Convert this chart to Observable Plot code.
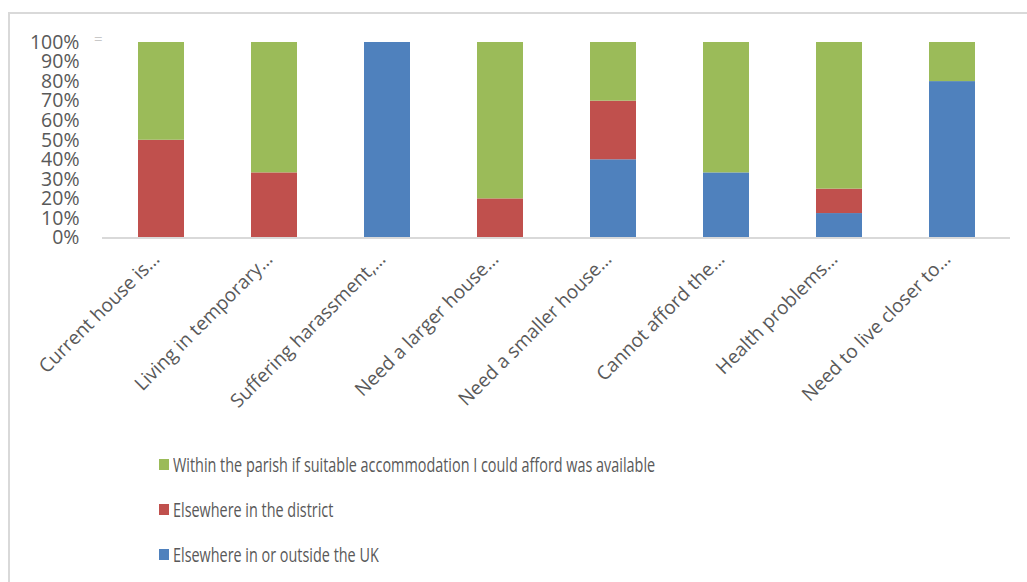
<!DOCTYPE html>
<html><head><meta charset="utf-8">
<script src="https://cdn.jsdelivr.net/npm/d3@7"></script>
<script src="https://cdn.jsdelivr.net/npm/@observablehq/plot@0.6"></script>
<style>
body{margin:0;background:#fff;}
#wrap{position:relative;width:1027px;height:582px;overflow:hidden;font-family:"Open Sans",sans-serif;background:#fff;}
#frame{position:absolute;left:8px;top:12px;width:1100px;height:700px;border-left:2px solid #d9d9d9;border-top:2px solid #d9d9d9;box-sizing:border-box;}
#chart{position:absolute;left:0;top:0;}
.row{position:absolute;left:159px;height:26px;display:flex;align-items:center;white-space:nowrap;}
.sw{width:10px;height:11px;margin-right:4px;flex:none;}
.lt{font-size:20px;color:#595959;display:inline-block;transform:scaleX(0.72);transform-origin:left center;}
#eq{position:absolute;left:94px;top:28px;font-size:15px;color:#c8c8c8;}
</style></head>
<body>
<div id="wrap">
<div id="frame"></div>
<div id="chart"></div>
<div id="eq">=</div>
<div id="legend"></div>
</div>
<script>
const categories = ["Current house is…","Living in temporary…","Suffering harassment,…","Need a larger house…","Need a smaller house…","Cannot afford the…","Health problems…","Need to live closer to…"];
const seriesNames = ["Elsewhere in or outside the UK","Elsewhere in the district","Within the parish if suitable accommodation I could afford was available"];
const outsideUK = [0,0,100,0,40,33.3,12.5,80];
const district  = [50,33.3,0,20,30,0,12.5,0];
const parish    = [50,66.7,0,80,30,66.7,75,20];
const yTicks = [0,10,20,30,40,50,60,70,80,90,100];
const colors = ["#4F81BD","#C0504D","#9BBB59"];
const legendOrder = [2,1,0];

const seriesValues = [outsideUK, district, parish];
const data = [];
categories.forEach((c,i)=>{
  seriesNames.forEach((s,j)=>{
    data.push({category:c, series:s, value:seriesValues[j][i]});
  });
});

const chart = Plot.plot({
  width:1027, height:445,
  marginTop:42, marginBottom:207.5, marginLeft:102, marginRight:17,
  style:{fontFamily:"Open Sans", fontSize:"19px", color:"#595959", background:"transparent", overflow:"visible"},
  x:{domain:categories, paddingInner:0.595, paddingOuter:0.2975, label:null},
  y:{domain:[0,100], label:null},
  color:{domain:seriesNames, range:colors},
  marks:[
    Plot.barY(data,{x:"category", y:"value", fill:"series", order:seriesNames}),
    Plot.ruleY([0],{stroke:"#d9d9d9", strokeWidth:2}),
    Plot.axisY({ticks:yTicks, tickSize:0, tickPadding:23, tickFormat:d=>d+"%", fill:"#595959", fontSize:19.5, label:null}),
    Plot.axisX({tickRotate:-45, tickSize:0, tickPadding:18, dx:-5, fill:"#595959", fontSize:19, label:null})
  ]
});
document.getElementById("chart").appendChild(chart);

const legend = document.getElementById("legend");
const rowTops = [451,496,541];
legendOrder.forEach((j,k)=>{
  const row = document.createElement("div");
  row.className="row";
  row.style.top = rowTops[k]+"px";
  const sw = document.createElement("span");
  sw.className="sw"; sw.style.background = colors[j];
  const t = document.createElement("span");
  t.className="lt"; t.textContent = seriesNames[j];
  row.appendChild(sw); row.appendChild(t);
  legend.appendChild(row);
});
</script>
</body></html>
